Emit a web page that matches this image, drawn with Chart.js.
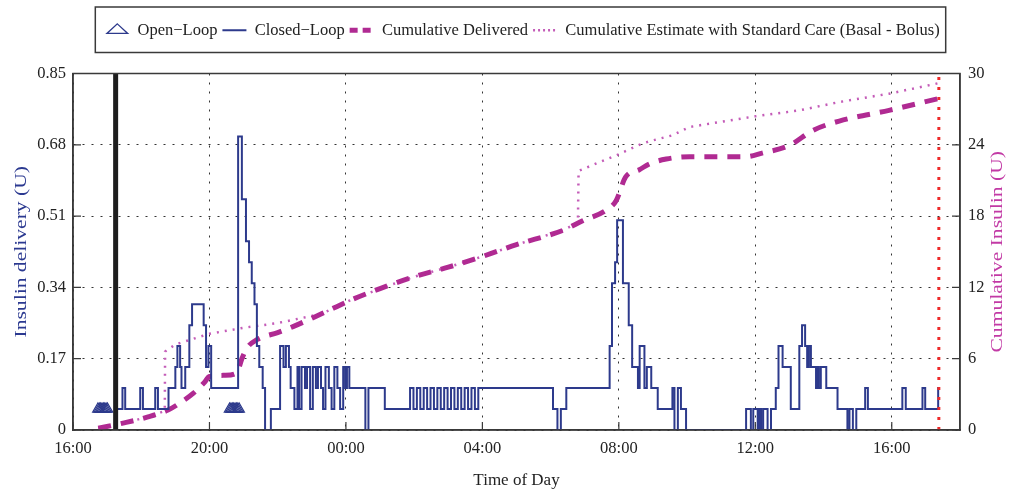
<!DOCTYPE html>
<html>
<head>
<meta charset="utf-8">
<title>Insulin delivery</title>
<script src="https://cdn.jsdelivr.net/npm/chart.js@4.4.1/dist/chart.umd.min.js"></script>
<style>
  html, body { margin: 0; padding: 0; background: #fff; }
  #wrap { width: 1019px; height: 491px; }
</style>
</head>
<body>
<div id="wrap"><canvas id="insulinChart" width="1019" height="491"></canvas></div>
<script>
// x values are hours after 16:00 on the first day
const xTickHours = [0, 4, 8, 12, 16, 20, 24];
const xTickLabels = ['16:00', '20:00', '00:00', '04:00', '08:00', '12:00', '16:00'];
const rateTicks = [0, 0.17, 0.34, 0.51, 0.68, 0.85];
const cumulativeTicks = [0, 6, 12, 18, 24, 30];

const openLoopHours = [0.73, 0.77, 0.81, 0.85, 0.89, 0.93, 0.97, 1.01,
  4.59, 4.63, 4.67, 4.71, 4.75, 4.79, 4.83, 4.87];
const openLoopRates = [0.05, 0.05, 0.05, 0.05, 0.05, 0.05, 0.05, 0.05,
  0.05, 0.05, 0.05, 0.05, 0.05, 0.05, 0.05, 0.05];

const closedLoopHours = [
  1.25, 1.45, 1.53, 1.97, 2.05, 2.41, 2.49, 2.80, 3.00, 3.06, 3.14, 3.18, 3.29, 3.41, 3.49, 3.83, 3.90, 3.97, 4.05,
  4.84, 4.95, 5.07, 5.16, 5.24, 5.32, 5.39, 5.46, 5.56, 5.63, 5.80,
  6.07, 6.17, 6.24, 6.33, 6.38, 6.49, 6.58, 6.63, 6.70, 6.80, 6.86, 6.95, 7.03, 7.12, 7.18, 7.27, 7.33, 7.40,
  7.50, 7.58, 7.66, 7.75, 7.83, 7.92, 7.98, 8.03, 8.10,
  8.57, 8.66, 9.14, 9.88, 9.98, 10.08, 10.18, 10.28, 10.38, 10.48, 10.58, 10.68, 10.78, 10.88, 10.98,
  11.08, 11.18, 11.28, 11.38, 11.48, 11.58, 11.68, 11.78, 11.88,
  14.07, 14.20, 14.30, 14.46, 15.73, 15.80, 15.89, 15.95, 16.12, 16.29, 16.39, 16.56, 16.61, 16.75, 16.82,
  16.95, 17.14, 17.57, 17.63, 17.73, 17.82, 17.97,
  19.73, 19.87, 19.94, 20.07, 20.12, 20.17, 20.23, 20.36, 20.46, 20.60, 20.68, 20.80, 21.04, 21.29, 21.37,
  21.46, 21.52, 21.57, 21.63, 21.78, 21.82, 21.86, 21.92, 22.08, 22.41, 22.70, 22.76, 22.86, 22.96, 23.22,
  23.30, 24.31, 24.41, 24.90, 24.98, 25.36, 25.40
];
const closedLoopRates = [
  0.05, 0.1, 0.05, 0.1, 0.05, 0.1, 0.05, 0.1, 0.15, 0.2, 0.15, 0.1, 0.15, 0.25, 0.3, 0.25, 0.15, 0.2, 0.1,
  0.7, 0.55, 0.45, 0.4, 0.35, 0.3, 0.2, 0.15, 0.1, 0, 0.05,
  0.2, 0.15, 0.2, 0.15, 0.1, 0.05, 0.15, 0.05, 0.15, 0.1, 0.15, 0.05, 0.15, 0.1, 0.15, 0.1, 0.05, 0.15,
  0.1, 0.05, 0.15, 0.1, 0.05, 0.15, 0.1, 0.15, 0.1,
  0, 0.1, 0.05, 0.1, 0.05, 0.1, 0.05, 0.1, 0.05, 0.1, 0.05, 0.1, 0.05, 0.1, 0.05,
  0.1, 0.05, 0.1, 0.05, 0.1, 0.05, 0.1, 0.05, 0.1,
  0.05, 0, 0.05, 0.1, 0.2, 0.35, 0.4, 0.5, 0.35, 0.25, 0.15, 0.1, 0.2, 0.1, 0.15,
  0.1, 0.05, 0.1, 0, 0.1, 0.05, 0,
  0.05, 0, 0.05, 0, 0.05, 0, 0.05, 0, 0.05, 0.1, 0.2, 0.15, 0.05, 0.2, 0.25,
  0.2, 0.15, 0.2, 0.15, 0.1, 0.15, 0.1, 0.15, 0.1, 0.05, 0, 0.05, 0, 0.05, 0.1,
  0.05, 0.1, 0.05, 0.1, 0.05, 0.1, 0.1
];

const deliveredHours = [0.74, 1.5, 2.2, 2.8, 3.2, 3.53, 3.85, 4.0, 4.45, 4.8, 4.95, 5.1, 5.39, 6.0, 6.45, 7.3,
  8.12, 9.0, 10.0, 11.0, 12.0, 13.0, 14.36, 14.94, 15.63, 15.92, 16.2, 16.6, 16.9, 17.39, 18.07, 19.73,
  20.2, 21.0, 21.68, 22.46, 23.92, 25.38];
const deliveredUnits = [0.15, 0.6, 1.1, 1.7, 2.4, 3.1, 4.0, 4.5, 4.6, 4.8, 6.0, 6.9, 7.6, 8.2, 8.7, 9.8,
  10.9, 11.9, 12.9, 13.7, 14.6, 15.6, 16.8, 17.6, 18.5, 19.3, 21.3, 21.9, 22.4, 22.8, 23.0, 23.0,
  23.3, 23.95, 25.2, 26.0, 26.9, 27.9];

const standardCareHours = [0.74, 1.5, 2.2, 2.69, 2.70, 3.0, 4.0, 5.0, 6.0, 7.0, 7.3, 8.12, 9.0, 10.0, 11.0,
  12.0, 13.0, 14.36, 14.8, 14.82, 15.4, 15.92, 16.6, 16.9, 17.57, 18.07, 20.0, 21.3, 22.46, 23.92, 25.24, 25.38];
const standardCareUnits = [0.15, 0.6, 1.1, 1.6, 6.6, 7.2, 8.1, 8.6, 9.0, 9.6, 9.8, 10.9, 11.9, 12.9, 13.7,
  14.6, 15.6, 16.8, 17.45, 21.8, 22.5, 23.1, 24.0, 24.3, 24.8, 25.5, 26.4, 26.9, 27.6, 28.3, 29.1, 29.2];

const loopStartHour = 1.25;
const endHour = 25.38;

const pts = (xs, ys) => xs.map((x, i) => ({ x: x, y: ys[i] }));

const NAVY = '#2d3a8c';
const MAGENTA = '#b02a92';
const PINK = '#c45cb8';
const serif = '"Liberation Serif", "DejaVu Serif", serif';

// the source figure is stretched vertically, so the rotated titles are drawn long
function stretchedTitle(ctx, text, x, y, color) {
  ctx.save();
  ctx.fillStyle = color;
  ctx.font = '16px ' + serif;
  ctx.textAlign = 'center';
  ctx.textBaseline = 'middle';
  ctx.translate(x, y);
  ctx.rotate(-Math.PI / 2);
  ctx.scale(1.35, 1);
  ctx.fillText(text, 0, 0);
  ctx.restore();
}

const framePlugin = {
  id: 'framePlugin',
  afterLayout(chart) {
    // nudge the legend a bit to the right, as in the figure
    const lg = chart.legend;
    lg.left += 13;
    lg.right += 13;
    lg.legendHitBoxes.forEach(b => { b.left += 13; });
  },
  afterDraw(chart) {
    const { ctx, chartArea: a, scales } = chart;
    ctx.save();
    ctx.strokeStyle = '#3a3a3a';
    ctx.lineWidth = 1.5;
    ctx.setLineDash([]);
    ctx.strokeRect(a.left, a.top, a.right - a.left, a.bottom - a.top);

    // inward tick marks
    ctx.lineWidth = 1.2;
    ctx.beginPath();
    xTickHours.forEach(h => {
      const px = scales.x.getPixelForValue(h);
      ctx.moveTo(px, a.bottom); ctx.lineTo(px, a.bottom - 8);
    });
    rateTicks.forEach(v => {
      const py = scales.y.getPixelForValue(v);
      ctx.moveTo(a.left, py); ctx.lineTo(a.left + 8, py);
    });
    cumulativeTicks.forEach(v => {
      const py = scales.y1.getPixelForValue(v);
      ctx.moveTo(a.right, py); ctx.lineTo(a.right - 8, py);
    });
    ctx.stroke();
    ctx.restore();

    const midY = (a.top + a.bottom) / 2;
    stretchedTitle(ctx, 'Insulin delivery (U)', 22, midY, '#2b3990');
    stretchedTitle(ctx, 'Cumulative Insulin (U)', 998, midY, '#c23aa5');

    // box round the legend
    const boxes = chart.legend.legendHitBoxes;
    if (boxes && boxes.length) {
      const l = Math.min(...boxes.map(b => b.left)) - 10;
      const r = Math.max(...boxes.map(b => b.left + b.width)) + 6;
      const t = Math.min(...boxes.map(b => b.top)) - 15;
      const btm = Math.max(...boxes.map(b => b.top + b.height)) + 14;
      ctx.save();
      ctx.strokeStyle = '#3a3a3a';
      ctx.lineWidth = 1.5;
      ctx.strokeRect(l, t, r - l, btm - t);
      ctx.restore();
    }
  }
};

new Chart(document.getElementById('insulinChart'), {
  type: 'line',
  data: {
    datasets: [
      {
        label: 'Open\u2212Loop',
        data: pts(openLoopHours, openLoopRates),
        showLine: false,
        pointStyle: 'triangle',
        pointRadius: 6,
        borderColor: NAVY,
        backgroundColor: 'rgba(0,0,0,0)',
        borderWidth: 1.3,
        yAxisID: 'y'
      },
      {
        label: 'Closed\u2212Loop',
        data: pts(closedLoopHours, closedLoopRates),
        stepped: 'before',
        pointStyle: 'line',
        pointRadius: 0,
        borderColor: NAVY,
        backgroundColor: NAVY,
        borderWidth: 2,
        yAxisID: 'y'
      },
      {
        label: 'Cumulative Delivered',
        data: pts(deliveredHours, deliveredUnits),
        pointStyle: 'line',
        pointRadius: 0,
        borderColor: MAGENTA,
        backgroundColor: MAGENTA,
        borderWidth: 5,
        borderDash: [13, 10],
        cubicInterpolationMode: 'monotone',
        yAxisID: 'y1'
      },
      {
        label: 'Cumulative Estimate with Standard Care (Basal - Bolus)',
        data: pts(standardCareHours, standardCareUnits),
        pointStyle: 'line',
        pointRadius: 0,
        borderColor: PINK,
        backgroundColor: PINK,
        borderWidth: 2.5,
        borderDash: [2, 6],
        yAxisID: 'y1'
      },
      {
        label: 'loop start',
        data: pts([loopStartHour, loopStartHour], [0, 0.85]),
        pointRadius: 0,
        borderColor: '#1e1e1e',
        borderWidth: 5,
        order: -1,
        yAxisID: 'y'
      },
      {
        label: 'end',
        data: pts([endHour, endHour], [0, 0.85]),
        pointRadius: 0,
        borderColor: '#ee2a2a',
        borderWidth: 3,
        borderDash: [3, 7],
        order: -1,
        yAxisID: 'y'
      }
    ]
  },
  options: {
    responsive: false,
    animation: false,
    devicePixelRatio: 1,
    layout: { padding: { top: 17, left: 0, right: 0, bottom: 0 } },
    plugins: {
      tooltip: { enabled: false },
      legend: {
        position: 'top',
        labels: {
          usePointStyle: true,
          pointStyleWidth: 24,
          boxHeight: 9,
          padding: 5,
          color: '#222',
          font: { family: serif, size: 16.5 },
          filter: item => item.datasetIndex < 4,
          generateLabels(chart) {
            const items = Chart.defaults.plugins.legend.labels.generateLabels(chart);
            items.forEach(it => {
              if (it.datasetIndex === 2) it.lineDash = [8, 5];
              if (it.datasetIndex === 3) it.lineDash = [2, 3];
            });
            return items;
          }
        }
      }
    },
    scales: {
      x: {
        type: 'linear',
        min: 0,
        max: 26,
        afterBuildTicks(scale) { scale.ticks = xTickHours.map(v => ({ value: v })); },
        afterFit(scale) { scale.height = 61; },
        ticks: {
          autoSkip: false,
          maxRotation: 0,
          padding: 9,
          color: '#222',
          font: { family: serif, size: 16.5 },
          callback: (value, index) => xTickLabels[index]
        },
        grid: { color: '#333', lineWidth: 1, drawTicks: false },
        border: { display: true, color: '#3a3a3a', width: 1.5, dash: [2, 7] },
        title: {
          display: true,
          text: 'Time of Day',
          color: '#222',
          font: { family: serif, size: 17 },
          padding: { top: 4, bottom: 0 }
        }
      },
      // empty band between the legend and the plot
      spacer: {
        type: 'linear',
        position: 'top',
        afterFit(scale) { scale.height = 25; },
        ticks: { display: false },
        grid: { display: false, drawOnChartArea: false, drawTicks: false },
        border: { display: false }
      },
      y: {
        position: 'left',
        min: 0,
        max: 0.85,
        afterBuildTicks(scale) { scale.ticks = rateTicks.map(v => ({ value: v })); },
        afterFit(scale) { scale.width = 73; },
        ticks: {
          padding: 7,
          color: '#222',
          font: { family: serif, size: 16.5 },
          callback: value => String(value)
        },
        grid: { color: '#333', lineWidth: 1, drawTicks: false },
        border: { display: true, color: '#3a3a3a', width: 1.5, dash: [2, 7] }
      },
      y1: {
        position: 'right',
        min: 0,
        max: 30,
        afterBuildTicks(scale) { scale.ticks = cumulativeTicks.map(v => ({ value: v })); },
        afterFit(scale) { scale.width = 59; },
        ticks: {
          padding: 8,
          color: '#222',
          font: { family: serif, size: 16.5 }
        },
        grid: { drawOnChartArea: false, drawTicks: false },
        border: { display: true, color: '#3a3a3a', width: 1.5 }
      }
    }
  },
  plugins: [framePlugin]
});
</script>
</body>
</html>
